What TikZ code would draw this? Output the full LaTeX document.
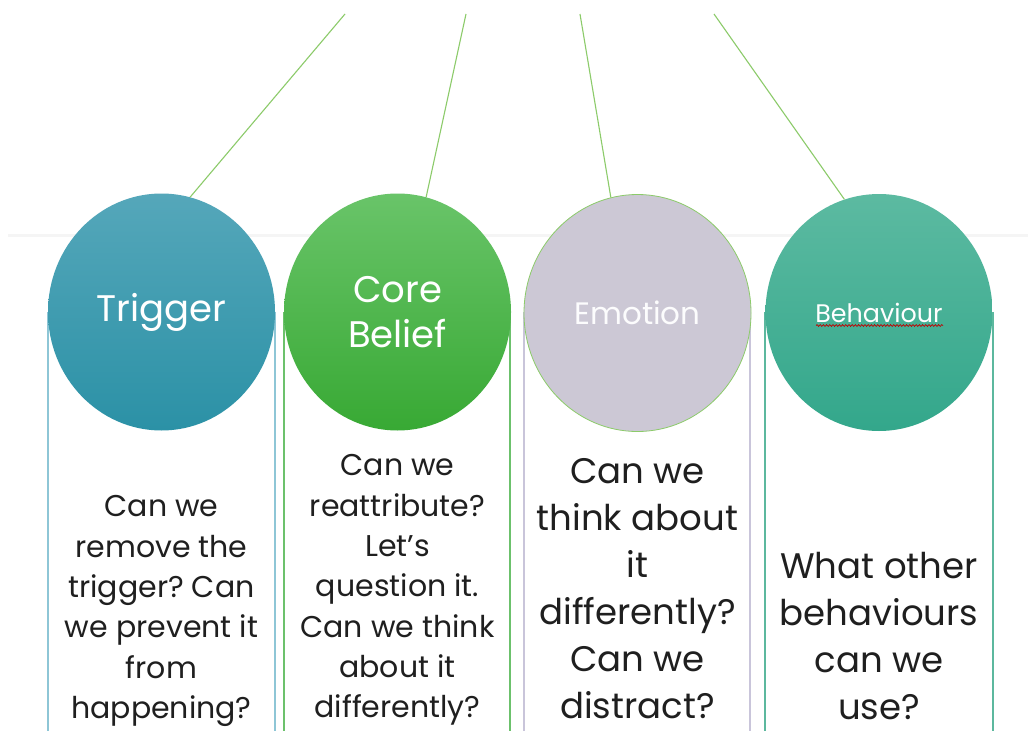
\documentclass[tikz,border=0pt]{standalone}
\usepackage{fontspec}
\setmainfont{Poppins}
\usetikzlibrary{shapes.geometric,decorations.pathmorphing}
\frenchspacing

\definecolor{trigA}{HTML}{55A7BA}
\definecolor{trigB}{HTML}{2B91A6}
\definecolor{coreA}{HTML}{69C469}
\definecolor{coreB}{HTML}{38A934}
\definecolor{emoFill}{HTML}{CCC8D5}
\definecolor{behA}{HTML}{5CBAA1}
\definecolor{behB}{HTML}{33A78B}
\definecolor{hangLine}{HTML}{8CCB6A}
\definecolor{colTrig}{HTML}{8EC6D6}
\definecolor{colCore}{HTML}{6CC16C}
\definecolor{colEmo}{HTML}{C9C5DA}
\definecolor{colBeh}{HTML}{5CB89E}

\tikzset{
  bubble/.style={ellipse, minimum width=227pt, minimum height=237pt, inner sep=0pt,
    text=white, align=center, font=\fontsize{37}{45}\selectfont},
  hang/.style={draw=hangLine, line width=1.1pt},
  colline/.style={line width=1.2pt},
  question/.style={align=center, text=black!88, inner sep=0pt},
  smallq/.style={question, font=\fontsize{30}{40.3}\selectfont},
  bigq/.style={question, font=\fontsize{35.5}{47}\selectfont}
}

\begin{document}
\begin{tikzpicture}[x=1pt,y=-1pt]
\useasboundingbox (0,0) rectangle (1028,731);
\fill[white] (0,0) rectangle (1028,731);

% faint horizontal band edge
\fill[black!4] (8,234) rectangle (1028,237);

% column side lines, behind the circles
\draw[colline, colTrig] (48,312) -- (48,731) (275,312) -- (275,731);
\draw[colline, colCore] (284,312) -- (284,731) (510,312) -- (510,731);
\draw[colline, colEmo]  (524,312) -- (524,731) (750,312) -- (750,731);
\draw[colline, colBeh]  (765,312) -- (765,731) (993,312) -- (993,731);

% circles
\node[bubble, top color=trigA, bottom color=trigB] (trig) at (161.5,312) {Trigger};
\node[bubble, top color=coreA, bottom color=coreB] (core) at (397.5,312) {Core\\Belief};
\node[bubble, fill=emoFill, draw=hangLine, line width=0.8pt,
      font=\fontsize{31}{40}\selectfont, text=white!95!emoFill] (emo) at (637.5,313) {Emotion};
\node[bubble, top color=behA, bottom color=behB,
      font=\fontsize{25.4}{35}\selectfont] (beh) at (879,312.5) {Behaviour};
\draw[red!75!black, line width=0.7pt,
      decorate, decoration={snake, amplitude=0.9pt, segment length=3.2pt}]
  (816,325.5) -- (943,325.5);

% hanging lines from the top
\coordinate (t1) at (345,14);
\coordinate (t2) at (466,14);
\coordinate (t3) at (580,14);
\coordinate (t4) at (714,14);
\draw[hang] (t1) -- (trig.76);
\draw[hang] (t2) -- (core.76);
\draw[hang] (t3) -- (emo.103);
\draw[hang] (t4) -- (beh.107);

% questions under each circle
\node[smallq] (qtrig) at (161.5,611) {Can we\\remove the\\trigger? Can\\we prevent it\\from\\happening?};
\node[smallq] (qcore) at (397.5,590) {Can we\\reattribute?\\Let’s\\question it.\\Can we think\\about it\\differently?};
\node[bigq] (qemo) at (637.5,589) {Can we\\think about\\it\\differently?\\Can we\\distract?};
\node[bigq] (qbeh) at (879,636) {What other\\behaviours\\can we\\use?};
\end{tikzpicture}
\end{document}
